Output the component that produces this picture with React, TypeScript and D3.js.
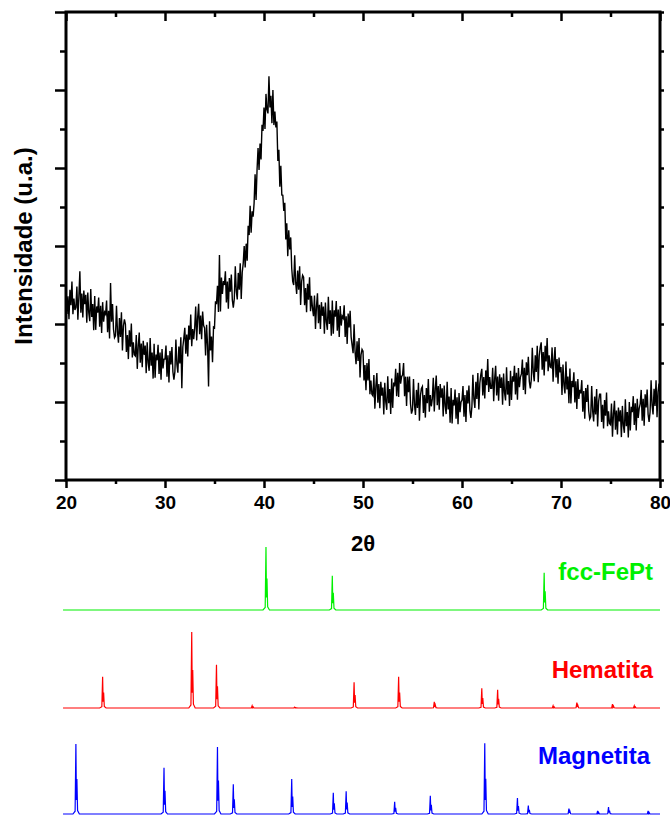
import { useEffect, useRef } from 'react';
import * as d3 from 'd3';

// measured pattern: 2theta from 20 to 80, step 0.1 (one row per degree)
const twoThetaStart = 20;
const twoThetaStep = 0.1;
const intensity = [
  495, 426, 471, 412, 488, 448, 509, 425, 465, 436,
  442, 496, 411, 470, 535, 429, 478, 417, 486, 451,
  475, 403, 481, 429, 407, 490, 418, 451, 384, 472,
  385, 445, 429, 468, 393, 447, 377, 456, 406, 430,
  425, 460, 379, 434, 363, 505, 406, 451, 386, 365,
  370, 447, 380, 352, 415, 367, 430, 332, 395, 412,
  400, 328, 372, 310, 384, 342, 401, 314, 353, 321,
  318, 372, 285, 344, 378, 301, 350, 289, 357, 321,
  345, 274, 353, 301, 280, 364, 293, 327, 260, 349,
  262, 322, 307, 347, 272, 327, 257, 336, 286, 310,
  310, 345, 265, 320, 250, 331, 296, 341, 277, 257,
  278, 360, 297, 275, 342, 299, 366, 235, 341, 363,
  390, 324, 373, 317, 396, 360, 424, 343, 387, 361,
  390, 445, 358, 417, 452, 374, 422, 361, 432, 396,
  390, 319, 398, 345, 240, 407, 332, 368, 302, 392,
  390, 458, 451, 498, 431, 577, 432, 519, 477, 510,
  500, 535, 455, 509, 439, 518, 483, 527, 462, 442,
  465, 548, 485, 463, 531, 488, 556, 464, 532, 555,
  600, 545, 606, 562, 652, 628, 703, 634, 689, 675,
  710, 784, 718, 797, 851, 795, 863, 822, 911, 895,
  955, 900, 990, 950, 940, 1035, 955, 985, 915, 1000,
  910, 945, 904, 919, 818, 847, 752, 806, 731, 730,
  690, 711, 617, 658, 574, 640, 591, 622, 543, 509,
  500, 576, 506, 477, 537, 488, 548, 449, 509, 525,
  520, 448, 492, 430, 503, 462, 520, 433, 472, 440,
  420, 473, 387, 445, 479, 402, 449, 387, 456, 421,
  445, 375, 455, 405, 385, 470, 400, 435, 370, 460,
  375, 435, 419, 459, 383, 437, 367, 446, 396, 420,
  415, 448, 367, 420, 349, 427, 391, 434, 367, 346,
  325, 399, 328, 297, 356, 305, 364, 263, 321, 335,
  330, 255, 295, 230, 300, 255, 310, 220, 255, 220,
  216, 269, 183, 241, 274, 198, 246, 184, 252, 216,
  237, 168, 249, 200, 180, 266, 197, 233, 169, 260,
  185, 250, 240, 285, 215, 275, 213, 300, 247, 265,
  270, 300, 215, 265, 190, 265, 225, 265, 195, 170,
  180, 259, 193, 167, 231, 185, 249, 152, 216, 235,
  240, 172, 218, 160, 236, 197, 259, 175, 218, 189,
  208, 262, 176, 234, 268, 192, 241, 180, 246, 211,
  235, 163, 242, 190, 169, 252, 181, 214, 147, 236,
  145, 206, 191, 232, 157, 212, 143, 223, 174, 200,
  205, 241, 162, 218, 149, 230, 196, 242, 178, 159,
  188, 270, 207, 185, 252, 208, 274, 181, 248, 270,
  285, 217, 264, 209, 281, 243, 310, 226, 264, 235,
  235, 288, 202, 260, 293, 217, 265, 203, 271, 236,
  263, 193, 273, 223, 204, 289, 219, 254, 190, 280,
  205, 266, 252, 293, 219, 275, 206, 287, 238, 264,
  272, 309, 231, 288, 220, 302, 269, 316, 253, 235,
  257, 339, 276, 253, 320, 277, 344, 251, 318, 340,
  353, 283, 328, 268, 344, 304, 364, 279, 320, 290,
  288, 340, 252, 309, 341, 263, 310, 247, 314, 276,
  290, 218, 296, 244, 222, 304, 232, 265, 197, 286,
  196, 254, 238, 276, 199, 253, 182, 259, 208, 231,
  222, 256, 175, 228, 157, 236, 200, 244, 177, 156,
  162, 241, 176, 150, 214, 168, 233, 137, 201, 220,
  220, 149, 193, 132, 205, 165, 224, 138, 176, 145,
  142, 196, 111, 170, 203, 129, 178, 117, 186, 150,
  179, 110, 190, 140, 121, 207, 138, 174, 109, 200,
  127, 188, 174, 215, 141, 197, 127, 208, 159, 184,
  195, 231, 152, 208, 139, 220, 186, 232, 168, 149,
  175, 256, 192, 168, 234, 190, 256, 161, 226, 247,
  215,
];

const xTicksMajor = [20, 30, 40, 50, 60, 70, 80];
const xTicksMinor = [25, 35, 45, 55, 65, 75];
const yTicksMajor = [0, 200, 400, 600, 800, 1000, 1200];
const yTicksMinor = [100, 300, 500, 700, 900, 1100];

// reference cards (relative intensity)
const fePtPeaks = [40.2, 46.9, 68.3];
const fePtIntensity = [83, 45, 49];
const hematitaPeaks = [23.7, 32.7, 35.2, 38.8, 43.1, 49.1, 53.6, 57.2, 62.0, 63.6, 69.2, 71.6, 75.2, 77.4];
const hematitaIntensity = [41, 100, 57, 3, 1, 34, 41, 8, 26, 24, 3, 7, 5, 3];
const magnetitaPeaks = [21.0, 29.9, 35.3, 36.9, 42.8, 47.0, 48.3, 53.2, 56.8, 62.3, 65.6, 66.7, 70.8, 73.7, 74.8, 78.8];
const magnetitaIntensity = [92, 61, 88, 39, 46, 28, 30, 16, 24, 93, 21, 11, 7, 4, 9, 4];

const WIDTH = 670;
const HEIGHT = 821;
const FONT = "'Liberation Sans', Arial, sans-serif";

export default function App() {
  const svgRef = useRef<SVGSVGElement>(null);

  useEffect(() => {
    const svg = d3.select(svgRef.current);
    svg.selectAll('*').remove();

    const left = 66, right = 660, top = 12, bottom = 480;

    const x = d3.scaleLinear().domain([20, 80]).range([left, right]);
    const y = d3.scaleLinear().domain([0, 1200]).range([bottom, top]);

    // measured curve
    const line = d3.line<number>()
      .x((d, i) => x(twoThetaStart + i * twoThetaStep))
      .y(d => y(d));
    svg.append('path')
      .attr('d', line(intensity))
      .attr('fill', 'none')
      .attr('stroke', '#000')
      .attr('stroke-width', 1.4);

    const styleTicks = (g: any) => {
      g.select('.domain').remove();
      g.selectAll('line').attr('stroke', '#000').attr('stroke-width', 2.5);
    };

    // bottom axis
    svg.append('g')
      .attr('transform', `translate(0,${bottom})`)
      .call(d3.axisBottom(x).tickValues(xTicksMajor).tickSize(8).tickPadding(8).tickFormat(d3.format('d')))
      .call(styleTicks)
      .selectAll('text')
      .attr('font-family', FONT)
      .attr('font-weight', 'bold')
      .attr('font-size', 19)
      .attr('fill', '#000');
    svg.append('g')
      .attr('transform', `translate(0,${bottom})`)
      .call(d3.axisBottom(x).tickValues(xTicksMinor).tickSize(4).tickFormat(() => ''))
      .call(styleTicks);

    // top axis (ticks pointing in)
    svg.append('g')
      .attr('transform', `translate(0,${top})`)
      .call(d3.axisBottom(x).tickValues(xTicksMajor).tickSize(9).tickFormat(() => ''))
      .call(styleTicks);
    svg.append('g')
      .attr('transform', `translate(0,${top})`)
      .call(d3.axisBottom(x).tickValues(xTicksMinor).tickSize(5).tickFormat(() => ''))
      .call(styleTicks);

    // left axis
    svg.append('g')
      .attr('transform', `translate(${left},0)`)
      .call(d3.axisLeft(y).tickValues(yTicksMajor).tickSize(11).tickFormat(() => ''))
      .call(styleTicks);
    svg.append('g')
      .attr('transform', `translate(${left},0)`)
      .call(d3.axisLeft(y).tickValues(yTicksMinor).tickSize(6).tickFormat(() => ''))
      .call(styleTicks);

    // right axis
    svg.append('g')
      .attr('transform', `translate(${right},0)`)
      .call(d3.axisRight(y).tickValues([...yTicksMajor, ...yTicksMinor]).tickSize(4).tickFormat(() => ''))
      .call(styleTicks);

    // frame
    svg.append('rect')
      .attr('x', left)
      .attr('y', top)
      .attr('width', right - left)
      .attr('height', bottom - top)
      .attr('fill', 'none')
      .attr('stroke', '#000')
      .attr('stroke-width', 3);

    // axis titles
    const xt = svg.append('text')
      .attr('x', (left + right) / 2)
      .attr('y', 551)
      .attr('text-anchor', 'middle')
      .attr('font-family', FONT)
      .attr('font-weight', 'bold')
      .attr('font-size', 22)
      .attr('fill', '#000');
    xt.append('tspan').text('2');
    xt.append('tspan').text('θ');

    svg.append('text')
      .attr('transform', `translate(32,${(top + bottom) / 2}) rotate(-90)`)
      .attr('text-anchor', 'middle')
      .attr('font-family', FONT)
      .attr('font-weight', 'bold')
      .attr('font-size', 24)
      .attr('fill', '#000')
      .text('Intensidade (u.a.)');

    // reference patterns
    const yRef = d3.scaleLinear().domain([0, 100]).range([0, 76]);
    const cards = [
      { name: 'fcc-FePt', peaks: fePtPeaks, values: fePtIntensity, color: '#00f000', base: 610, labelX: 653, labelY: 580 },
      { name: 'Hematita', peaks: hematitaPeaks, values: hematitaIntensity, color: '#ff0000', base: 708, labelX: 653, labelY: 678 },
      { name: 'Magnetita', peaks: magnetitaPeaks, values: magnetitaIntensity, color: '#0000ff', base: 814, labelX: 650, labelY: 764 },
    ];

    cards.forEach(card => {
      const pts: [number, number][] = [[19.7, 0]];
      card.peaks.forEach((p, i) => {
        const v = card.values[i];
        pts.push([p - 0.3, 0], [p - 0.08, v * 0.04], [p, v], [p + 0.05, v * 0.2],
          [p + 0.1, v * 0.5], [p + 0.17, v * 0.05], [p + 0.35, 0]);
      });
      pts.push([80, 0]);
      const refLine = d3.line<[number, number]>()
        .x(d => x(d[0]))
        .y(d => card.base - yRef(d[1]));
      svg.append('path')
        .attr('d', refLine(pts))
        .attr('fill', 'none')
        .attr('stroke', card.color)
        .attr('stroke-width', 1.2);
      svg.append('text')
        .attr('x', card.labelX)
        .attr('y', card.labelY)
        .attr('text-anchor', 'end')
        .attr('font-family', FONT)
        .attr('font-weight', 'bold')
        .attr('font-size', 24)
        .attr('fill', card.color)
        .text(card.name);
    });
  }, []);

  return (
    <svg
      ref={svgRef}
      width={WIDTH}
      height={HEIGHT}
      style={{ position: 'absolute', left: 0, top: 0, background: '#fff' }}
    />
  );
}
